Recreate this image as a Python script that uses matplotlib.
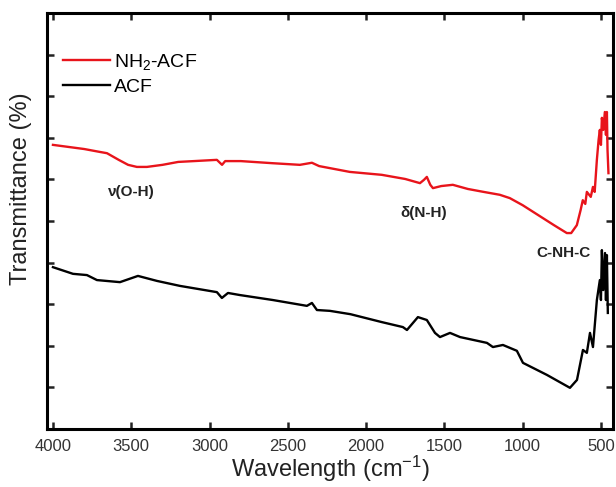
import numpy as np
import matplotlib
matplotlib.use('Agg')
import matplotlib.pyplot as plt

plt.rcParams['font.family'] = ['Liberation Sans', 'DejaVu Sans']
plt.rcParams['mathtext.fontset'] = 'custom'
plt.rcParams['mathtext.rm'] = 'Liberation Sans'
plt.rcParams['mathtext.it'] = 'Liberation Sans:italic'

# NH2-ACF spectrum
wn_nh2 = [4000, 3900, 3800, 3700, 3655, 3580, 3520, 3464, 3400, 3300, 3200, 3100,
          2953, 2920, 2900, 2800, 2600, 2423, 2346, 2300, 2104, 1900, 1750, 1656,
          1630, 1612, 1590, 1573, 1520, 1446, 1350, 1250, 1146, 1082, 1000, 900,
          800, 718, 690, 654, 630, 616, 600, 590, 565, 551, 540, 526, 515, 507,
          500, 494, 485, 475, 468, 462, 458, 452]
t_nh2 = [68.3, 67.8, 67.3, 66.6, 66.3, 64.7, 63.5, 63.0, 63.0, 63.5, 64.2, 64.4,
         64.7, 63.5, 64.4, 64.4, 63.9, 63.5, 64.0, 63.2, 61.8, 61.1, 60.1, 59.1,
         59.9, 60.6, 58.7, 57.9, 58.4, 58.7, 57.7, 57.0, 56.3, 55.5, 53.8, 51.4,
         49.0, 47.1, 47.1, 49.0, 52.6, 55.0, 54.1, 57.0, 55.8, 58.2, 57.0, 64.7,
         69.5, 71.9, 68.3, 74.8, 71.9, 76.2, 70.7, 76.2, 67.1, 61.5]

# ACF spectrum
wn_acf = [4000, 3872, 3783, 3719, 3572, 3457, 3336, 3189, 2953, 2921, 2882, 2806,
          2595, 2378, 2346, 2314, 2231, 2100, 1900, 1765, 1739, 1669, 1612, 1560,
          1528, 1464, 1400, 1228, 1190, 1126, 1037, 998, 845, 698, 653, 615, 590,
          570, 551, 526, 507, 500, 494, 485, 474, 468, 462, 456]
t_acf = [38.9, 37.3, 37.0, 35.8, 35.3, 36.8, 35.6, 34.4, 32.9, 31.5, 32.7, 32.2,
         31.0, 29.6, 30.3, 28.6, 28.4, 27.6, 25.7, 24.5, 23.8, 26.9, 26.2, 23.1,
         22.1, 23.1, 22.1, 20.7, 19.7, 20.2, 18.8, 15.9, 13.0, 9.9, 11.8, 19.0, 18.3,
         23.1, 19.7, 31.0, 35.8, 31.0, 43.0, 33.4, 42.3, 31.0, 41.8, 27.9]

labels = ['NH$_2$-ACF', 'ACF']
colors = ['#e8141b', 'black']
bands = [(r'ν(O-H)', 3502, 57.0), (r'δ(N-H)', 1630, 51.9), ('C-NH-C', 736, 42.3)]
xticks = [4000, 3500, 3000, 2500, 2000, 1500, 1000, 500]

fig = plt.figure(figsize=(6.16, 4.87), dpi=100)
ax = fig.add_axes([47/616, 1 - 429/487, 566/616, 416/487])

ax.plot(wn_nh2, t_nh2, color=colors[0], lw=1.7, label=labels[0])
ax.plot(wn_acf, t_acf, color=colors[1], lw=1.7, label=labels[1])

for txt, x, y in bands:
    ax.text(x, y, txt, ha='center', va='center', fontsize=11, fontweight='bold',
            color='#222222')

ax.set_xlim(4038, 423)
ax.set_ylim(0, 100)
ax.set_xticks(xticks)
ax.set_yticks(np.arange(10, 100, 10))
ax.set_yticklabels([])
ax.tick_params(direction='in', length=5, width=1.8, top=True, right=True,
               labelsize=12, pad=7, colors='#222222', labelcolor='#333333')
for s in ax.spines.values():
    s.set_linewidth(2.2)

ax.set_xlabel('Wavelength (cm$^{-1}$)', fontsize=17, color='#222222', labelpad=0)
ax.set_ylabel('Transmittance (%)', fontsize=17, color='#222222')
ax.yaxis.set_label_coords(-0.026, 0.577)

ax.legend(loc='upper left', bbox_to_anchor=(0.005, 0.94), frameon=False,
          fontsize=14, handlelength=2.4, handletextpad=0.2, labelspacing=0.35,
          borderaxespad=0.3)

fig.savefig('out.png', dpi=100)
